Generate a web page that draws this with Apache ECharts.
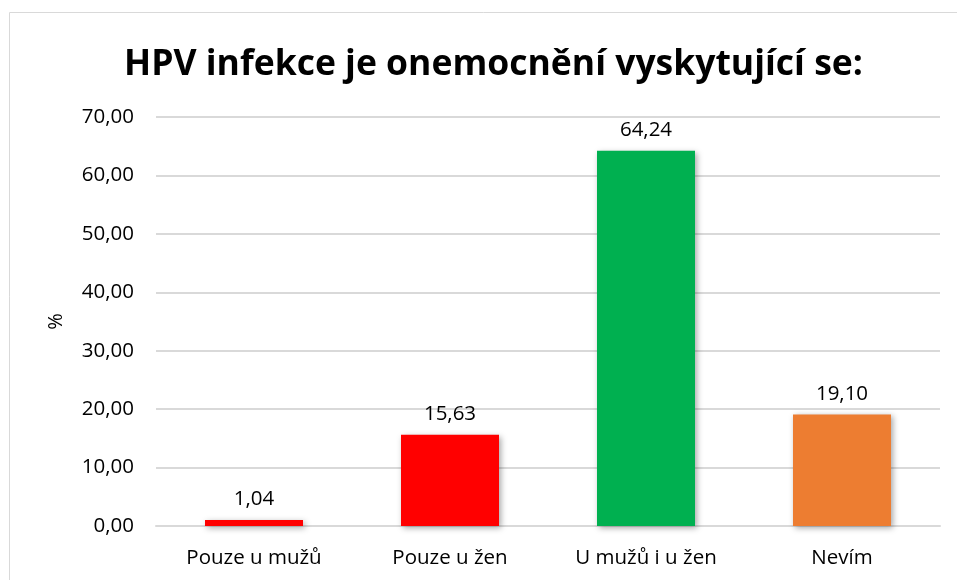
<!DOCTYPE html>
<html>
<head>
<meta charset="utf-8">
<script src="https://cdn.jsdelivr.net/npm/echarts@6/dist/echarts.min.js"></script>
<style>
  html, body { margin: 0; padding: 0; background: #fff; }
  #main { width: 957px; height: 580px; }
</style>
</head>
<body>
<div id="main"></div>
<script>
// data
var categories = ['Pouze u mužů', 'Pouze u žen', 'U mužů i u žen', 'Nevím']
var values = [1.04, 15.63, 64.24, 19.10]
var barColors = ['#ff0000', '#ff0000', '#00b050', '#ed7d31']

var chart = echarts.init(document.getElementById('main'))
var fmt = function (v) { return Number(v).toFixed(2).replace('.', ',') }

var option = {
  animation: false,
  textStyle: { fontFamily: 'Open Sans' },
  title: {
    text: 'HPV infekce je onemocnění vyskytující se:',
    left: 119,
    top: 42,
    textStyle: { fontSize: 35.5, fontWeight: 'bold', color: '#000', fontFamily: 'Open Sans' }
  },
  graphic: [{
    type: 'rect',
    shape: { x: 9.5, y: 12.5, width: 1000, height: 700 },
    style: { fill: null, stroke: '#d9d9d9', lineWidth: 1 }
  }],
  grid: { left: 156, right: 17, top: 117, bottom: 54 },
  xAxis: {
    type: 'category',
    data: categories,
    axisLine: { lineStyle: { color: '#d9d9d9', width: 2 } },
    axisTick: { show: false },
    axisLabel: { fontSize: 20.5, color: '#000', margin: 22 }
  },
  yAxis: {
    type: 'value',
    min: 0,
    max: 70,
    interval: 10,
    name: '%',
    nameLocation: 'middle',
    nameGap: 90,
    nameRotate: 90,
    nameTextStyle: { fontSize: 20, color: '#000' },
    axisLabel: { fontSize: 20.5, color: '#000', margin: 22, formatter: fmt },
    splitLine: { lineStyle: { color: '#d9d9d9', width: 2 } }
  },
  series: [{
    type: 'bar',
    barWidth: '50%',
    data: values.map(function (v, i) {
      return { value: v, itemStyle: { color: barColors[i] } }
    }),
    itemStyle: {
      shadowBlur: 6,
      shadowColor: 'rgba(0,0,0,0.35)',
      shadowOffsetX: 2,
      shadowOffsetY: 2
    },
    label: {
      show: true,
      position: 'top',
      distance: 10,
      fontSize: 20.5,
      color: '#000',
      formatter: function (p) { return fmt(p.value) }
    }
  }]
}
chart.setOption(option)
</script>
</body>
</html>
